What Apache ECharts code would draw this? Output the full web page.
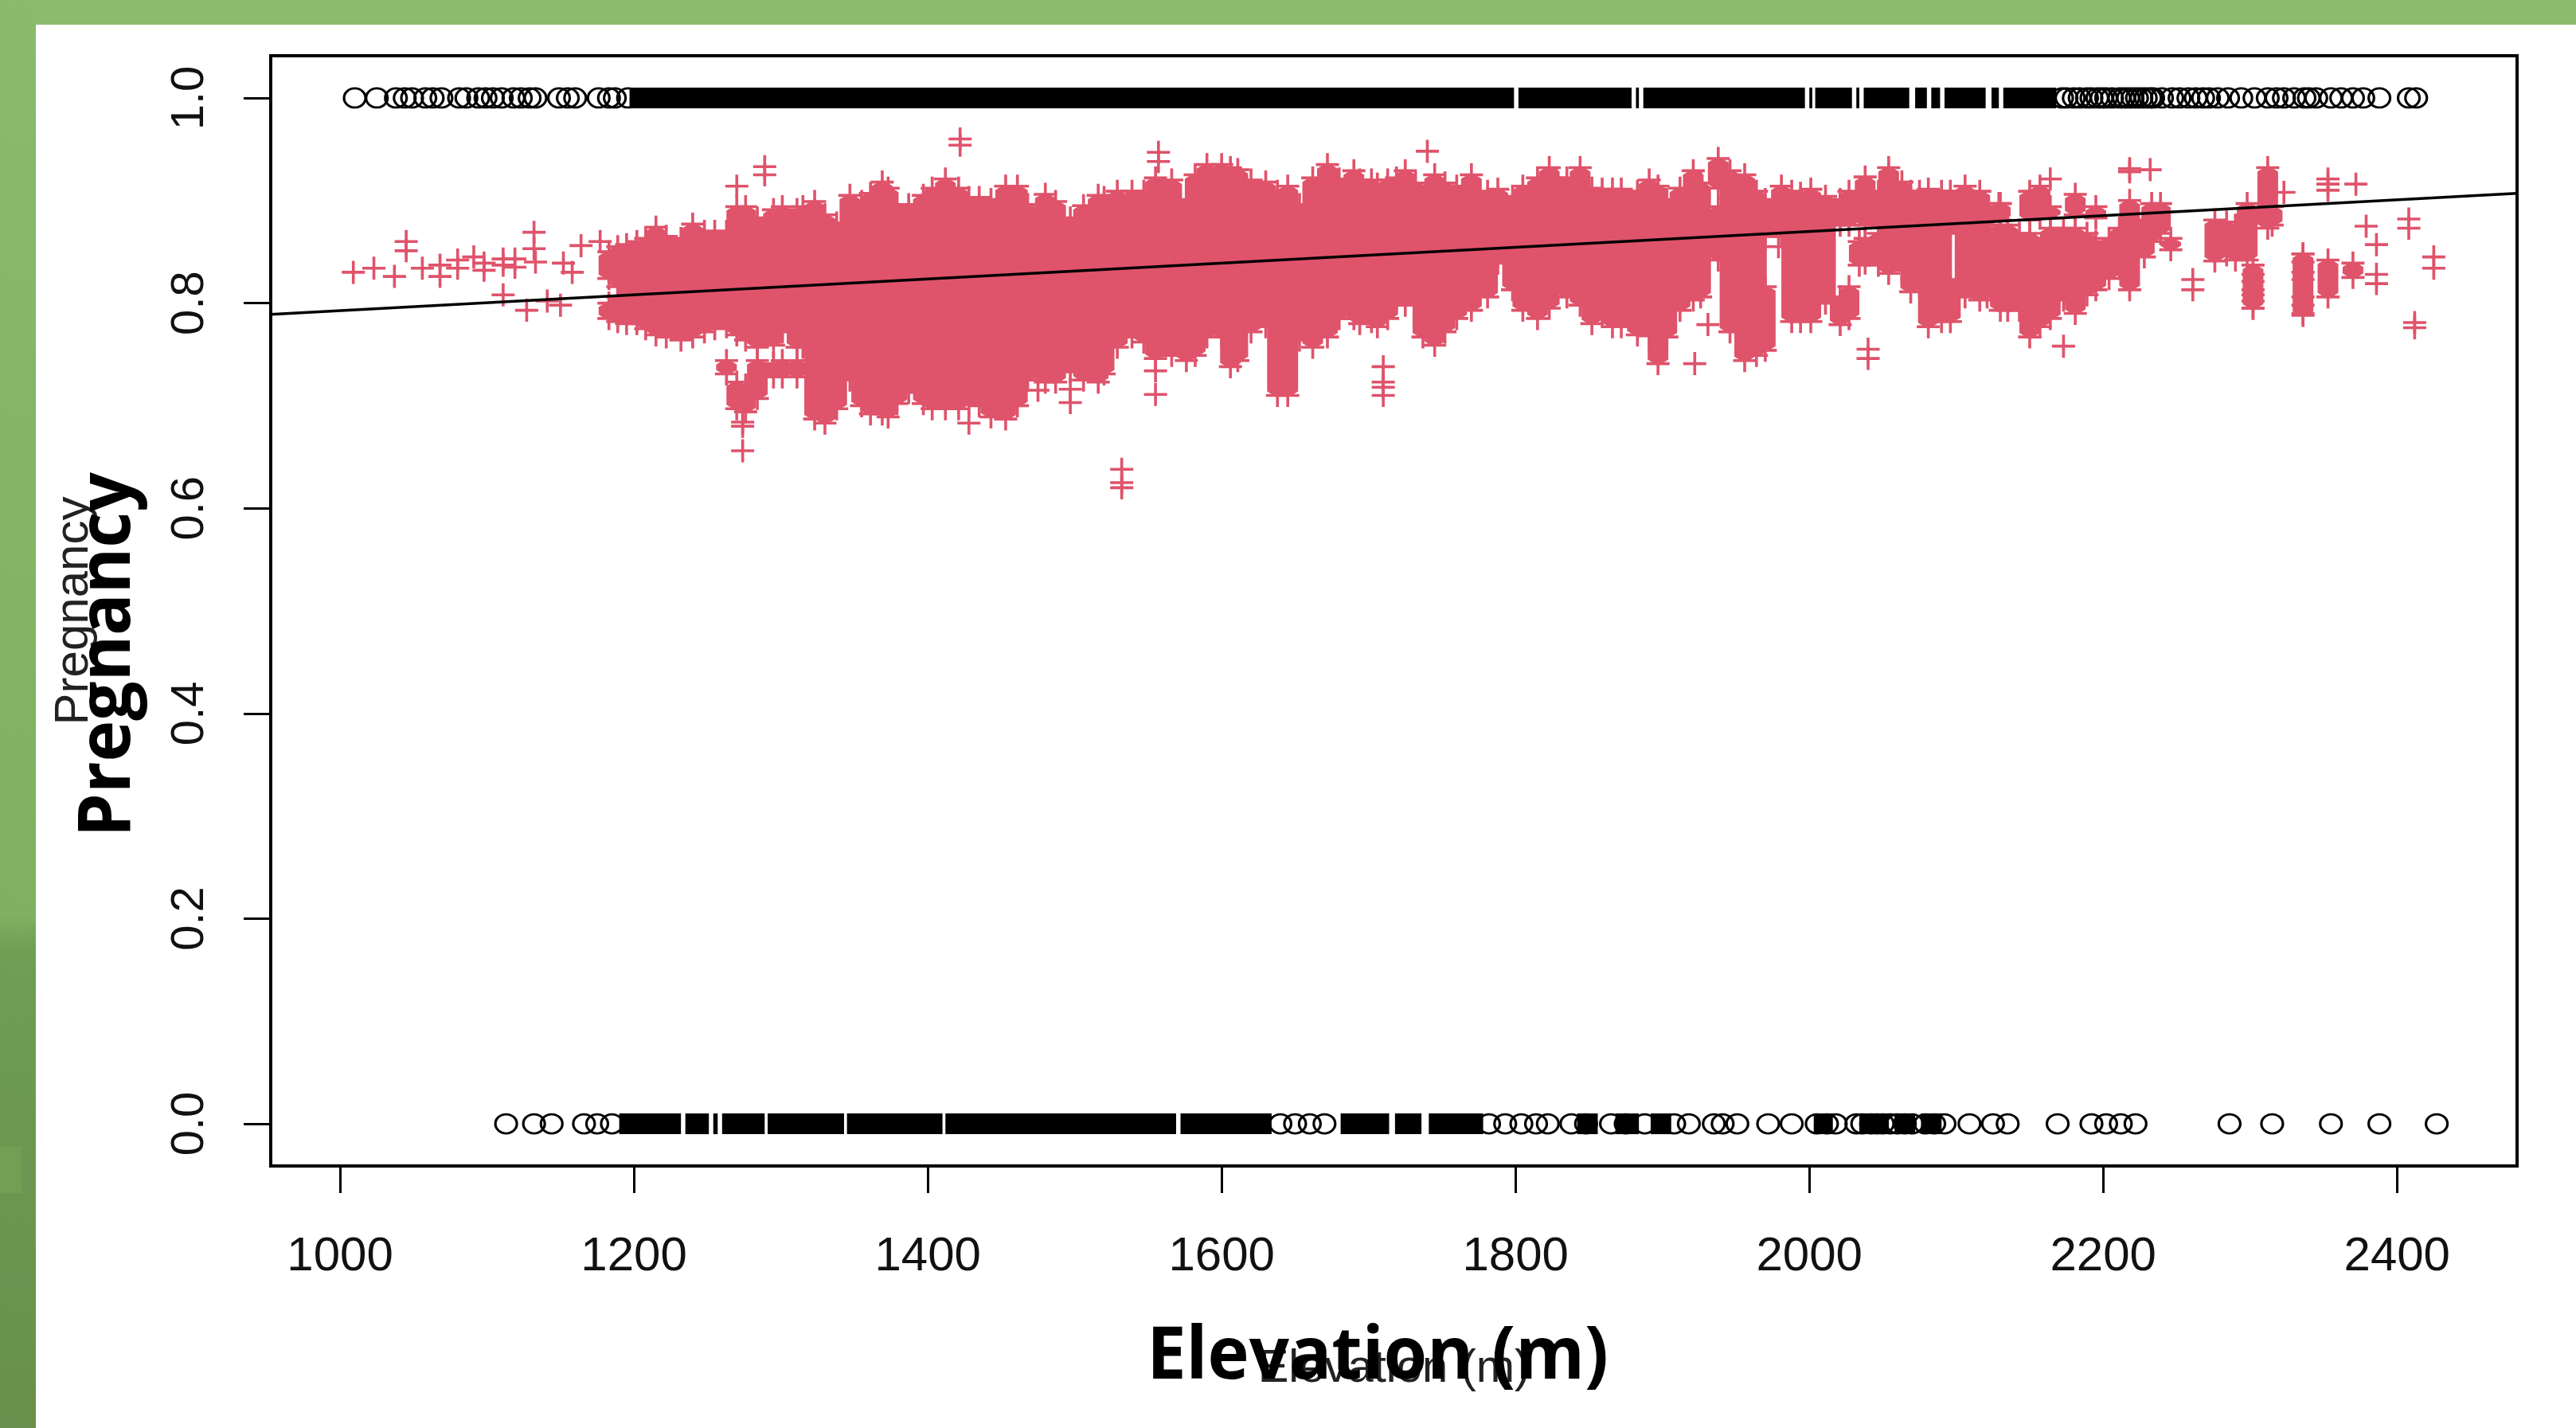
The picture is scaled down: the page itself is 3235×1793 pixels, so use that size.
<!DOCTYPE html>
<html><head><meta charset="utf-8">
<script src="https://cdn.jsdelivr.net/npm/echarts@6/dist/echarts.min.js"></script>
<style>
html,body{margin:0;padding:0;background:#fff;width:3235px;height:1793px;overflow:hidden}
#top{position:absolute;left:0;top:0;width:3235px;height:31px;background:#8CBB6E}
#side{position:absolute;left:0;top:0;width:45px;height:1793px;background:linear-gradient(180deg,#8ABA6C 0,#7FB160 1150px,#6F9E55 1195px,#6C9852 1420px,#68904C 1793px)}
#patch{position:absolute;left:0;top:1440px;width:27px;height:58px;background:#739F55}
#c{position:absolute;left:0;top:0;width:3235px;height:1793px}
</style></head><body>
<div id="top"></div><div id="side"></div><div id="patch"></div><div id="c"></div>
<script>
const xTicks=[1000,1200,1400,1600,1800,2000,2200,2400];
const yTicks=[0,0.2,0.4,0.6,0.8,1.0];
const xLabel='Elevation (m)';
const yLabel='Pregnancy';

// dense pregnant columns: elevation, upper and lower edge of the solid cloud
const bandElevation=[1183,1183,1189,1189,1195,1202,1208,1215,1222,1232,1240,1248,1255,1263,1263,1270,1270,1276,1276,1284,1284,1295,1295,1301,1301,1311,1311,
1315,1323,1330,1338,1347,1355,1361,1369,1373,1379,1387,1397,1403,1412,1421,1428,1435,1443,1453,1461,1468,1480,1487,1497,1506,1516,1520,1529,1539,1547,1555,1566,1576,1582,1590,1600,1606,1611,1620,1630,
1638,1645,1653,1662,1672,1680,1690,1694,1702,1706,1713,1719,1725,1732,1737,1745,1752,1760,1770,1781,1788,1798,1805,1815,1823,1828,1835,1844,1852,1859,1866,1872,1883,1891,1897,1903,1912,1921,1926,1938,1938,1946,1956,
1964,1970,1970,1981,1988,1994,2001,2011,2021,2021,2027,2027,2034,2038,2038,2047,2047,2054,2063,2069,2075,2081,2090,2096,2096,2106,2116,2121,2121,2130,2130,2135,2143,2150,2150,2157,2157,2164,2164,2173,2181,2181,2189,2195,2195,2204,2211,2218,2228,2233,2239,2246,2276,
2284,2290,2298,2302,2312,2315,2336,2353,2370];
const bandHigh=[.850,.800,.855,.806,.857,.860,.863,.874,.865,.863,.877,.870,.870,.870,.744,.894,.723,.894,.720,.883,.744,.891,.741,.894,.744,.891,.744,
.894,.899,.886,.878,.905,.899,.907,.918,.912,.896,.896,.905,.912,.921,.912,.903,.903,.901,.914,.914,.896,.906,.899,.883,.895,.905,.903,.909,.909,.909,.922,.920,.901,.925,.935,.935,.932,.930,.920,.918,
.909,.914,.896,.922,.935,.921,.929,.920,.920,.916,.920,.922,.929,.917,.904,.925,.917,.914,.925,.909,.911,.904,.914,.922,.932,.922,.922,.932,.912,.911,.911,.911,.909,.920,.914,.901,.912,.929,.917,.941,.894,.929,.925,
.909,.901,.816,.914,.909,.907,.911,.904,.901,.806,.909,.816,.860,.923,.863,.909,.868,.932,.918,.909,.909,.911,.909,.909,.823,.914,.909,.894,.873,.897,.876,.876,.868,.909,.868,.914,.842,.894,.873,.873,.906,.873,.868,.894,.860,.863,.873,.900,.881,.897,.897,.863,.881,
.879,.876,.897,.837,.932,.894,.848,.842,.839];
const bandLow=[.824,.785,.816,.782,.780,.780,.775,.769,.767,.764,.767,.772,.775,.777,.731,.769,.697,.764,.694,.757,.707,.759,.728,.772,.728,.757,.728,
.757,.687,.683,.697,.725,.700,.692,.692,.689,.702,.713,.702,.697,.697,.697,.702,.700,.689,.687,.700,.725,.723,.723,.733,.725,.723,.731,.757,.767,.762,.746,.749,.744,.749,.767,.767,.738,.744,.772,.777,
.710,.710,.764,.757,.767,.785,.785,.780,.782,.777,.785,.803,.798,.806,.767,.759,.772,.785,.793,.806,.839,.813,.793,.785,.795,.819,.806,.798,.780,.788,.777,.777,.769,.768,.741,.767,.793,.803,.806,.912,.842,.772,.744,
.749,.865,.754,.865,.782,.782,.782,.800,.876,.779,.876,.785,.837,.876,.839,.876,.837,.829,.832,.811,.816,.777,.782,.868,.782,.806,.803,.876,.806,.881,.793,.793,.793,.881,.767,.883,.777,.883,.785,.803,.886,.790,.808,.883,.813,.824,.834,.813,.845,.860,.868,.852,.841,
.847,.842,.842,.795,.873,.876,.788,.806,.825];

// individually visible pregnant points
const pointElevation=[1009,1023,1037,1045,1045,1056,1068,1068,1080,1080,1091,1098,1098,1111,1111,1119,1119,1132,1132,1133,1111,1127,1141,1150,1152,1158,1164,1177,
1270,1289,1289,1274,1274,1274,1422,1422,1557,1557,1532,1532,1532,1555,1555,1497,1497,1428,1475,1740,1710,1710,1710,1710,1922,1931,1979,2040,2040,2129,2164,2173,2218,2218,2232,2261,2261,
2323,2353,2353,2353,2372,2379,2386,2386,2386,2408,2408,2425,2425,2412,2412,2302,2302,2302,2302,2302,2302,2336,2336,2336,2336,2336,2336,2336];
const pointPregnancy=[.830,.834,.826,.860,.851,.834,.837,.826,.842,.834,.845,.839,.832,.843,.837,.843,.835,.869,.853,.840,.808,.793,.802,.798,.839,.830,.856,.860,
.914,.933,.925,.684,.680,.656,.960,.954,.947,.938,.638,.625,.620,.734,.711,.716,.703,.683,.715,.948,.738,.723,.718,.710,.741,.779,.855,.755,.746,.897,.921,.758,.931,.928,.930,.823,.813,
.908,.921,.916,.910,.916,.875,.857,.828,.819,.882,.873,.845,.834,.781,.776,.828,.821,.813,.808,.802,.795,.848,.840,.830,.823,.806,.798,.790];

// not pregnant (0) and pregnant (1) rows of open circles: separate circles, and runs where they merge to solid black
const oneCircles=[1010,1025,1038,1044,1049,1058,1063,1069,1081,1086,1094,1099,1104,1110,1118,1123,1129,1133,1149,1155,1160,1176,1183,1187,1196,2172,2175,2180,2184,2189,2192,2196,2199,2202,2206,2211,2214,2217,2220,2223,2226,2229,2232,2234,2240,2247,2252,2258,2263,2268,2272,2278,2285,2294,2303,2312,2318,2323,2330,2337,2340,2345,2355,2362,2370,2377,2388,2408,2413];
const oneRunFrom=[1197,1802,1882,1887,2000,2004,2032,2037,2072,2083,2092,2124,2132];
const oneRunTo=[1799,1879,1884,1997,2002,2029,2034,2068,2080,2089,2120,2129,2168];
const zeroCircles=[1113,1132,1144,1166,1175,1185,1640,1650,1660,1670,1782,1793,1804,1814,1822,1838,1848,1865,1875,1888,1908,1918,1935,1941,1951,1972,1988,2005,2012,2018,2032,2036,2042,2046,2050,2055,2060,2065,2070,2079,2085,2092,2109,2125,2135,2169,2192,2202,2212,2222,2286,2315,2355,2388,2427];
const zeroRunFrom=[1190,1235,1254,1260,1291,1345,1412,1572,1681,1718,1741,1842,1868,1892,2003,2034,2058,2076];
const zeroRunTo=[1232,1251,1257,1289,1343,1410,1569,1634,1714,1736,1778,1856,1884,1906,2016,2054,2072,2090];

// fitted line
const lineElevation=[952.8,2481.7];
const linePregnancy=[.789,.907];

const RED='#DF536B';
const PLUS='path://M7,0h2v7h7v2h-7v7h-2v-7h-7v-2h7z';
const bandRows=bandElevation.map((e,i)=>[e,bandHigh[i],bandLow[i]]);
const crossRows=[];
bandRows.forEach(r=>{crossRows.push([r[0],r[1]]);crossRows.push([r[0],r[2]]);});
pointElevation.forEach((e,i)=>crossRows.push([e,pointPregnancy[i]]));
const runs=[];
oneRunFrom.forEach((f,i)=>runs.push([f,oneRunTo[i],1]));
zeroRunFrom.forEach((f,i)=>runs.push([f,zeroRunTo[i],0]));
const circles=oneCircles.map(e=>[e,1]).concat(zeroCircles.map(e=>[e,0]));

const tickStyle={show:true,length:34,lineStyle:{color:'#000',width:3}};
const chart=echarts.init(document.getElementById('c'),null,{renderer:'canvas',width:3235,height:1793});
chart.setOption({
  animation:false,backgroundColor:'transparent',
  grid:{left:340,top:70,width:2821,height:1394,show:true,borderColor:'#000',borderWidth:4,backgroundColor:'transparent',containLabel:false},
  xAxis:{type:'value',min:952.8,max:2481.7,splitLine:{show:false},axisLine:{show:false,onZero:false},
    axisTick:Object.assign({customValues:xTicks},tickStyle),
    axisLabel:{customValues:xTicks,margin:84,fontFamily:'Liberation Sans',fontSize:60,color:'#111',formatter:v=>String(v)},
    name:xLabel,nameLocation:'center',nameGap:226,nameTextStyle:{fontFamily:'Liberation Sans',fontSize:58,color:'#222'}},
  yAxis:{type:'value',min:-0.0411,max:1.0411,splitLine:{show:false},axisLine:{show:false,onZero:false},
    axisTick:Object.assign({customValues:yTicks},tickStyle),
    axisLabel:{customValues:yTicks,rotate:90,margin:72,fontFamily:'Liberation Sans',fontSize:58,color:'#111',formatter:v=>v.toFixed(1)},
    name:yLabel,nameLocation:'center',nameGap:217,nameTextStyle:{fontFamily:'Liberation Sans',fontSize:60,color:'#222'}},
  series:[
    {type:'custom',data:bandRows,encode:{x:0,y:[1,2]},silent:true,z:2,
     renderItem:(p,api)=>{const a=api.coord([api.value(0),api.value(1)]),b=api.coord([api.value(0),api.value(2)]);
       const x=a[0],t=a[1],l=b[1],c=Math.min(5,(l-t)/2);
       return {type:'polygon',shape:{points:[[x-13,t+c],[x-5,t],[x+5,t],[x+13,t+c],[x+13,l-c],[x+5,l],[x-5,l],[x-13,l-c]]},style:{fill:RED}};}},
    {type:'scatter',data:crossRows,symbol:PLUS,symbolSize:29,itemStyle:{color:RED,opacity:1},silent:true,z:3},
    {type:'line',data:lineElevation.map((e,i)=>[e,linePregnancy[i]]),symbol:'none',lineStyle:{color:'#000',width:3.5},silent:true,z:4},
    {type:'custom',data:runs,encode:{x:[0,1],y:2},silent:true,z:5,
     renderItem:(p,api)=>{const a=api.coord([api.value(0),api.value(2)]),b=api.coord([api.value(1),api.value(2)]);
       return {type:'rect',shape:{x:a[0],y:a[1]-13,width:b[0]-a[0],height:26},style:{fill:'#000'}};}},
    {type:'scatter',data:circles,symbol:'circle',symbolSize:[27,24],itemStyle:{color:'rgba(255,255,255,0)',borderColor:'#000',borderWidth:3,opacity:1},silent:true,z:6}
  ],
  graphic:[
    {type:'text',x:1730,y:1705,scaleX:.96,z:20,style:{text:xLabel,fontFamily:'Open Sans',fontWeight:'bold',fontSize:92,fill:'#000',textAlign:'center',textVerticalAlign:'middle'}},
    {type:'text',x:137,y:822,rotation:Math.PI/2,scaleX:.95,z:20,style:{text:yLabel,fontFamily:'Open Sans',fontWeight:'bold',fontSize:92,fill:'#000',textAlign:'center',textVerticalAlign:'middle'}}
  ]
});
</script></body></html>
